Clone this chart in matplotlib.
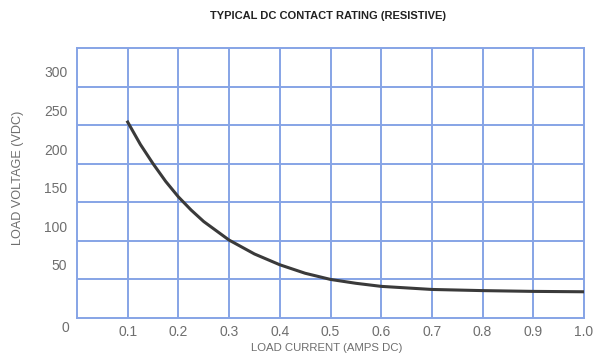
import matplotlib
matplotlib.use('Agg')
import matplotlib.pyplot as plt
import numpy as np

# load current (A) vs load voltage (V)
current = [0.1, 0.125, 0.15, 0.175, 0.2, 0.225, 0.25, 0.3, 0.35, 0.4, 0.45, 0.5, 0.55, 0.6, 0.7, 0.8, 0.9, 1.0]
voltage = [235, 206, 181, 158, 138, 121, 106, 82, 64, 50, 39, 31, 26, 22, 18, 16.5, 15.5, 15]

x_ticks = [0.1, 0.2, 0.3, 0.4, 0.5, 0.6, 0.7, 0.8, 0.9, 1.0]
x_labels = ['0.1', '0.2', '0.3', '0.4', '0.5', '0.6', '0.7', '0.8', '0.9', '1.0']
y_ticks = [50, 100, 150, 200, 250, 300]
# grid lines sit between the printed voltage labels in the original drawing
y_grid = [31, 81, 131, 181, 231, 281]

grid_col = '#86a4e6'
text_col = '#6e6e6e'
plt.rcParams['font.family'] = ['Liberation Sans', 'DejaVu Sans']

fig = plt.figure(figsize=(5.98, 3.55), dpi=100)
ax = fig.add_axes([77/598, 37/355, 507/598, 270/355])

ax.plot(current, voltage, color='#3a3a3a', lw=2.2, solid_joinstyle='round', zorder=3)

ax.set_xlim(0, 1.0)
ax.set_ylim(-19, 331)
for xv in x_ticks:
    ax.axvline(xv, color=grid_col, lw=1.4, zorder=1)
for yv in y_grid:
    ax.axhline(yv, color=grid_col, lw=1.4, zorder=1)
for s in ax.spines.values():
    s.set_color(grid_col)
    s.set_linewidth(1.4)

ax.set_xticks(x_ticks)
ax.set_xticklabels(x_labels)
ax.set_yticks(y_ticks)
ax.tick_params(length=0, labelsize=10, colors=text_col)
ax.tick_params(axis='x', pad=5)
ax.tick_params(axis='y', pad=7)
ax.text(-0.022, -0.037, '0', transform=ax.transAxes, ha='center', va='center',
        fontsize=10, color=text_col)

fig.text(328/598, 1 - 16/355, 'TYPICAL DC CONTACT RATING (RESISTIVE)',
         ha='center', va='center', fontsize=8, fontweight='bold', color='#222222')
fig.text(18/598, 1 - 178/355, 'LOAD VOLTAGE (VDC)', rotation=90,
         ha='center', va='center', fontsize=9.1, color=text_col)
fig.text(327/598, 1 - 348/355, 'LOAD CURRENT (AMPS DC)',
         ha='center', va='center', fontsize=8.2, color=text_col)

fig.savefig('out.png', dpi=100)
